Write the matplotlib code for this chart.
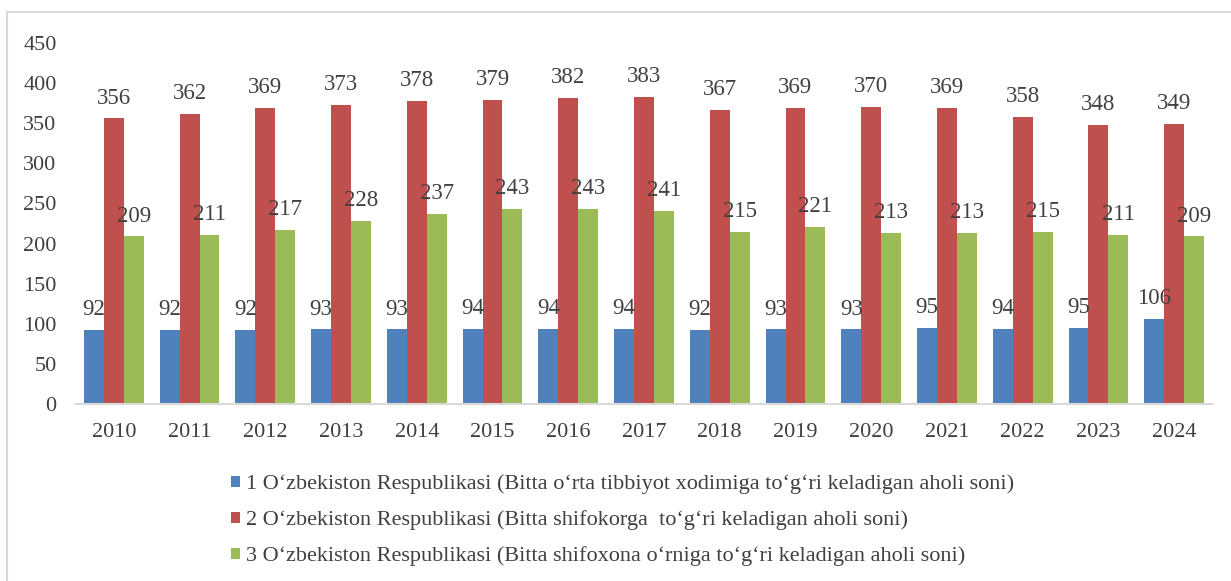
import matplotlib
matplotlib.use("Agg")
import matplotlib.pyplot as plt
import numpy as np
from matplotlib.patches import Rectangle

years = ["2010", "2011", "2012", "2013", "2014", "2015", "2016", "2017",
         "2018", "2019", "2020", "2021", "2022", "2023", "2024"]
s1 = [92, 92, 92, 93, 93, 94, 94, 94, 92, 93, 93, 95, 94, 95, 106]
s2 = [356, 362, 369, 373, 378, 379, 382, 383, 367, 369, 370, 369, 358, 348, 349]
s3 = [209, 211, 217, 228, 237, 243, 243, 241, 215, 221, 213, 213, 215, 211, 209]
labels = [
    "1 O\u2018zbekiston Respublikasi (Bitta o\u2018rta tibbiyot xodimiga to\u2018g\u2018ri keladigan aholi soni)",
    "2 O\u2018zbekiston Respublikasi (Bitta shifokorga  to\u2018g\u2018ri keladigan aholi soni)",
    "3 O\u2018zbekiston Respublikasi (Bitta shifoxona o\u2018rniga to\u2018g\u2018ri keladigan aholi soni)",
]
colors = ["#4F81BD", "#C0504D", "#9BBB59"]

plt.rcParams['font.family'] = ['Liberation Serif', 'DejaVu Serif']
W, H = 1231, 581
fig = plt.figure(figsize=(W / 100, H / 100), dpi=100)
ax = fig.add_axes([76 / W, 1 - 404 / H, (1212 - 76) / W, (404 - 43) / H])

x = np.arange(len(years))
bw = 0.263
txtc = "#404040"
for i, (vals, c) in enumerate(zip([s1, s2, s3], colors)):
    xs = x + (i - 1) * bw
    ax.bar(xs, vals, width=bw, color=c, label=labels[i], zorder=2)
    for xx, v in zip(xs, vals):
        ax.annotate(str(v), (xx, v), xytext=(0, 7), textcoords="offset points",
                    ha="center", va="bottom", fontsize=16.5, color=txtc)

ax.set_xlim(-0.5, len(years) - 0.5)
ax.set_ylim(0, 450)
ax.set_yticks(np.arange(0, 451, 50))
ax.set_xticks(x)
ax.set_xticklabels(years)
ax.tick_params(axis='both', length=0, labelsize=16, labelcolor=txtc)
ax.tick_params(axis='x', pad=14)
ax.tick_params(axis='y', pad=14)
for s in ["top", "right", "left"]:
    ax.spines[s].set_visible(False)
ax.spines["bottom"].set_color("#D9D9D9")
ax.spines["bottom"].set_linewidth(1.5)

handles, lbls = ax.get_legend_handles_labels()
leg = fig.legend(handles, lbls, loc="upper left", bbox_to_anchor=(224 / W, 1 - 468 / H),
                 frameon=False, fontsize=16, handlelength=0.42, handleheight=0.42,
                 handletextpad=0.25, labelspacing=0.72, labelcolor=txtc,
                 borderaxespad=0, borderpad=0.3)

fig.patches.append(Rectangle((7 / W, -0.1), 1.2, 1 - 12 / H + 0.1, transform=fig.transFigure,
                             fill=False, edgecolor="#D9D9D9", linewidth=1.5))

fig.savefig("out.png", dpi=100)
